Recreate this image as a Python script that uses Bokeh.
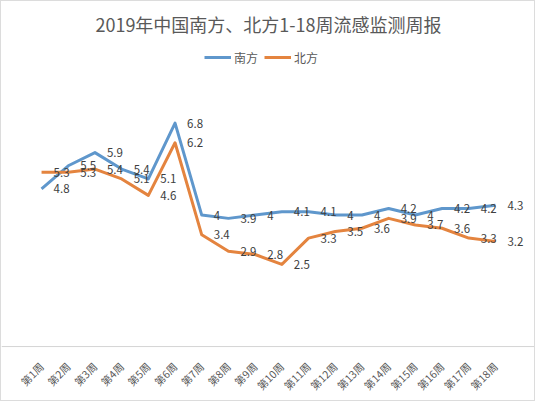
from bokeh.plotting import figure
from bokeh.models import ColumnDataSource, Legend, LegendItem, Range1d, LabelSet, Span
from bokeh.core.properties import value
from bokeh.embed import file_html
from bokeh.resources import INLINE
import math

weeks = ["第1周", "第2周", "第3周", "第4周", "第5周", "第6周", "第7周", "第8周", "第9周",
         "第10周", "第11周", "第12周", "第13周", "第14周", "第15周", "第16周", "第17周", "第18周"]
south = [4.8, 5.5, 5.9, 5.4, 5.1, 6.8, 4, 3.9, 4, 4.1, 4.1, 4, 4, 4.2, 4, 4.2, 4.2, 4.3]
north = [5.3, 5.3, 5.4, 5.1, 4.6, 6.2, 3.4, 2.9, 2.8, 2.5, 3.3, 3.5, 3.6, 3.9, 3.7, 3.6, 3.3, 3.2]

BLUE = "#5f97cc"
ORANGE = "#e4843f"
FONT = "Noto Sans CJK SC"

src = ColumnDataSource(dict(
    w=weeks, s=south, n=north,
    sl=[str(v) for v in south], nl=[str(v) for v in north],
))

p = figure(width=535, height=401, x_range=weeks, y_range=Range1d(-0.12, 9.22),
           output_backend="svg", toolbar_location=None,
           min_border_left=0, min_border_right=1, min_border_bottom=52, min_border_top=42,
           styles={"border": "1px solid #dcdcdc", "box-sizing": "border-box"})
p.x_range.range_padding = 1
p.x_range.range_padding_units = "absolute"

p.title.text = "2019年中国南方、北方1-18周流感监测周报"
p.title.align = "center"
p.title.text_font = FONT
p.title.text_font_size = "18px"
p.title.text_font_style = "normal"
p.title.text_color = "#595959"
p.title.standoff = 14

# x axis baseline at zero
p.add_layout(Span(location=0, dimension="width", line_color="#d4d4d4", line_width=1))

r1 = p.line("w", "s", source=src, line_color=BLUE, line_width=3, line_join="round")
r2 = p.line("w", "n", source=src, line_color=ORANGE, line_width=3, line_join="round")

for col, lab in (("s", "sl"), ("n", "nl")):
    ls = LabelSet(x="w", y=col, text=lab, source=src, x_offset=12, y_offset=0,
                  text_align="left", text_baseline="middle",
                  text_font=value(FONT), text_font_size="11.5px", text_color="#404040")
    p.add_layout(ls)

legend = Legend(items=[LegendItem(label="南方", renderers=[r1]),
                       LegendItem(label="北方", renderers=[r2])],
                orientation="horizontal", location=(203, 283),
                label_text_font=FONT, label_text_font_size="12px", label_text_color="#595959",
                glyph_width=27, label_standoff=3, spacing=6,
                border_line_color=None, background_fill_alpha=0,
                padding=2, margin=0)
p.add_layout(legend, "center")

p.yaxis.visible = False
p.xgrid.grid_line_color = None
p.ygrid.grid_line_color = None
p.outline_line_color = None
p.xaxis.axis_line_color = None
p.xaxis.major_tick_line_color = None
p.xaxis.minor_tick_line_color = None
p.xaxis.major_label_orientation = math.pi / 4
p.xaxis.major_label_text_font = FONT
p.xaxis.major_label_text_font_size = "10.5px"
p.xaxis.major_label_text_color = "#595959"
p.xaxis.major_label_standoff = 8

open("out.html", "w").write(file_html(p, INLINE))
